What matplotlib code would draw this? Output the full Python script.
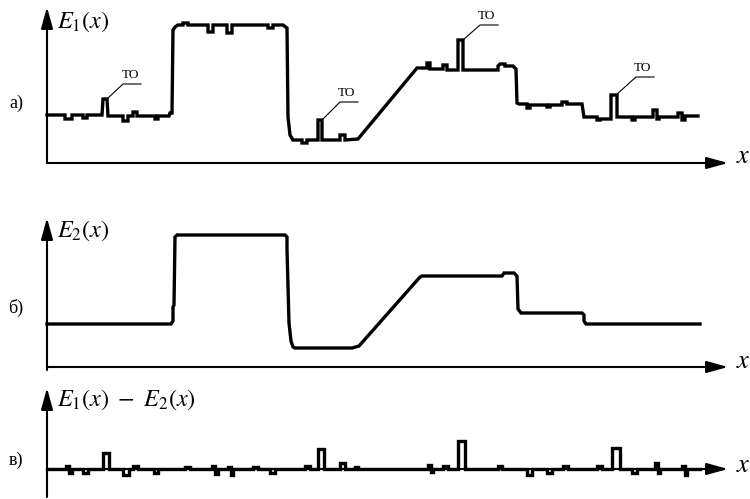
import numpy as np
import matplotlib.pyplot as plt

plt.rcParams['mathtext.fontset'] = 'stix'
plt.rcParams['font.family'] = ['Liberation Serif', 'DejaVu Serif']

# E1(x): measured profile with noise and point objects (x, level)
e1_pts = [(0, 48), (18, 48), (18, 44), (25, 44), (25, 48), (36, 48), (36, 45), (40, 45), (40, 48),
          (55, 48), (56, 64), (60, 64), (61, 47),
          (76, 47), (76, 42), (81, 42), (81, 47), (86, 47), (86, 51), (90, 51), (90, 47),
          (108, 47), (108, 44), (111, 44), (111, 47), (122, 47), (123, 50), (125, 50),
          (126, 133), (128, 136), (131, 138),
          (136, 138), (136, 140), (141, 140), (141, 138),
          (161, 138), (161, 131), (166, 131), (166, 138),
          (180, 138), (180, 130), (185, 130), (185, 138),
          (221, 138), (221, 135), (226, 135), (226, 138),
          (236, 138), (240, 135), (241, 46), (243, 28), (246, 23),
          (255, 23), (255, 20), (260, 20), (260, 23),
          (271, 23), (271, 43), (275, 43), (275, 23),
          (293, 23), (293, 28), (298, 28), (298, 23),
          (311, 24), (370, 95),
          (380, 95), (380, 100), (383, 100), (383, 94),
          (396, 94), (396, 98), (400, 98), (400, 93),
          (411, 93), (411, 123), (416, 123), (416, 93),
          (451, 93), (451, 97), (453, 99), (458, 99), (458, 97), (466, 97), (469, 94), (470, 60), (472, 59),
          (480, 59), (480, 55), (483, 55), (483, 58),
          (500, 58), (500, 56), (503, 56), (503, 58),
          (515, 58), (515, 61), (520, 61), (520, 59),
          (535, 59), (537, 46),
          (550, 46), (550, 43), (553, 43), (553, 44),
          (564, 44), (564, 68), (570, 68), (570, 46),
          (585, 46), (585, 43), (588, 43), (588, 46),
          (606, 46), (606, 53), (610, 53), (610, 44), (612, 44), (612, 46),
          (631, 46), (631, 50), (635, 50), (635, 43), (638, 43), (638, 47),
          (651, 47)]

# E2(x): smoothed background
e2_pts = [(0, 43), (124, 43), (126, 46), (126, 60), (127, 62), (128, 130), (130, 132),
          (238, 132), (240, 130), (240, 118), (242, 44), (244, 26), (246, 20), (248, 19),
          (305, 19), (312, 21), (373, 90), (375, 91),
          (455, 91), (457, 94), (467, 94), (470, 91), (471, 58), (474, 54),
          (535, 54), (537, 52), (537, 46), (539, 43),
          (653, 43)]

# E1(x) - E2(x)
diff_pts = [(0, 0), (19, 0), (19, 3), (22, 3), (22, -4), (25, -4), (25, 0),
            (36, 0), (36, -4), (41, -4), (41, 0),
            (56, 0), (56, 16), (62, 16), (62, 0),
            (76, 0), (76, -6), (82, -6), (82, 0), (86, 0), (86, 3), (91, 3), (91, 0),
            (107, 0), (107, -4), (111, -4), (111, 0),
            (138, 0), (138, 2), (143, 2), (143, 0),
            (165, 0), (165, 3), (168, 3), (168, -5), (171, -5), (171, 0),
            (181, 0), (181, 2), (184, 2), (184, -6), (186, -6), (186, 0),
            (206, 0), (206, 2), (211, 2), (211, 0),
            (223, 0), (223, -4), (228, -4), (228, 0),
            (258, 0), (258, 3), (263, 3), (263, 0),
            (271, 0), (271, 20), (277, 20), (277, 0),
            (293, 0), (293, 6), (298, 6), (298, 0),
            (308, 0), (308, 2), (311, 2), (311, 0),
            (381, 0), (381, 4), (384, 4), (384, -3), (386, -3), (386, 0),
            (396, 0), (396, 3), (401, 3), (401, 0),
            (411, 0), (411, 28), (418, 28), (418, 0),
            (451, 0), (451, 3), (455, 3), (455, 0),
            (480, 0), (480, -6), (485, -6), (485, 0),
            (500, 0), (500, -4), (505, -4), (505, 0),
            (516, 0), (516, 3), (521, 3), (521, 0),
            (550, 0), (550, 3), (555, 3), (555, 0),
            (565, 0), (565, 21), (573, 21), (573, 0),
            (585, 0), (585, -4), (590, -4), (590, 0),
            (608, 0), (608, 6), (611, 6), (611, -4), (613, -4), (613, 0),
            (635, 0), (635, 3), (638, 3), (638, -6), (640, -6), (640, 0),
            (653, 0)]

# point objects: peak top, leader end
to_peaks = [(60, 64), (275, 43), (416, 123), (569, 68)]
to_ends = [(76, 79), (293, 61), (433, 138), (589, 86)]
to_text = 'ТО'

panel_labels = ['а)', 'б)', 'в)']
y_labels = [r'$E_1(x)$', r'$E_2(x)$', r'$E_1(x)\ -\ E_2(x)$']

W, H = 750, 499
fig = plt.figure(figsize=(7.5, 4.99), dpi=100)

# panels in pixel rows: (top, bottom, x-axis row, y-axis tip row, y-axis bottom row)
rows = [(0, 175, 163, 7, 163), (185, 375, 367, 218, 370), (380, 499, 469, 388, 497)]
series = [e1_pts, e2_pts, diff_pts]
lbl_y = [60, 59, 9]
ylab_y = [141, 136, 69]
xlab_y = [6, 5, 3]

arrow = dict(arrowstyle='-|>,head_length=0.65,head_width=0.18', mutation_scale=20,
             lw=1.5, color='black', shrinkA=0, shrinkB=0)

for i, (top, bot, x0, tip, ybot) in enumerate(rows):
    ax = fig.add_axes([0, (H - bot) / H, 1, (bot - top) / H])
    ax.set_xlim(-47, W - 47)
    ax.set_ylim(x0 - bot, x0 - top)
    ax.axis('off')

    # axes with arrows
    ax.annotate('', xy=(681, 0), xytext=(0, 0), arrowprops=arrow, annotation_clip=False)
    ax.annotate('', xy=(0, x0 - tip), xytext=(0, x0 - ybot), arrowprops=arrow, annotation_clip=False)

    pts = np.array(series[i])
    ax.plot(pts[:, 0], pts[:, 1], color='black', lw=2.4, solid_joinstyle='miter', clip_on=False)

    ax.text(-31, lbl_y[i], panel_labels[i], fontsize=13, ha='center', va='center')
    ax.text(10, ylab_y[i], y_labels[i], fontsize=17.5, ha='left', va='center')
    ax.text(696, xlab_y[i], r'$x$', fontsize=19, ha='center', va='center')

    if i == 0:
        for (px, py), (ex, ey) in zip(to_peaks, to_ends):
            ax.plot([px, ex, ex + 18], [py, ey, ey], color='black', lw=0.8)
            ax.text(ex + 7, ey + 3, to_text, fontsize=9.5, ha='center', va='bottom')

plt.savefig('out.png', dpi=100)
